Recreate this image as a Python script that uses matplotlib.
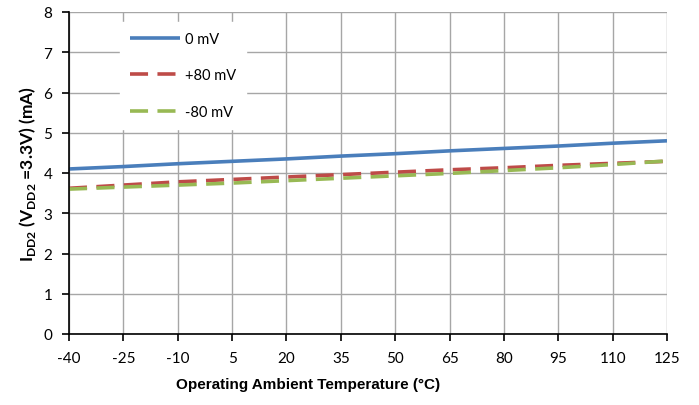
import matplotlib
matplotlib.use("Agg")
import matplotlib.pyplot as plt
from matplotlib import font_manager

temps = [-40, -25, -10, 5, 20, 35, 50, 65, 80, 95, 110, 125]
i_0mv = [4.10, 4.16, 4.23, 4.29, 4.35, 4.42, 4.48, 4.55, 4.61, 4.67, 4.74, 4.80]
i_p80 = [3.62, 3.70, 3.78, 3.84, 3.90, 3.96, 4.02, 4.08, 4.13, 4.19, 4.24, 4.29]
i_m80 = [3.60, 3.65, 3.70, 3.75, 3.81, 3.87, 3.93, 3.99, 4.06, 4.13, 4.21, 4.30]
xticks = [-40, -25, -10, 5, 20, 35, 50, 65, 80, 95, 110, 125]
yticks = [0, 1, 2, 3, 4, 5, 6, 7, 8]

names = {f.name for f in font_manager.fontManager.ttflist}
tick_font = "Lato" if "Lato" in names else "DejaVu Sans"
narrow = "Liberation Sans Narrow" if "Liberation Sans Narrow" in names else "Liberation Sans"

plt.rcParams['font.family'] = [tick_font, 'DejaVu Sans']
plt.rcParams['axes.unicode_minus'] = False
plt.rcParams['mathtext.fontset'] = 'custom'
plt.rcParams['mathtext.bf'] = f'{tick_font}:bold'
plt.rcParams['mathtext.rm'] = f'{tick_font}:bold'

fig = plt.figure(figsize=(6.99, 4.06), dpi=100)
ax = fig.add_axes([69/699, 71/406, 598/699, 322/406])

ax.plot(temps, i_0mv, color='#4a7ebb', lw=2.6, label='0 mV', solid_capstyle='butt')
ax.plot(temps, i_p80, color='#be4b48', lw=2.6, ls=(0, (5, 2.6)), label='+80 mV')
ax.plot(temps, i_m80, color='#98b954', lw=2.6, ls=(0, (5, 2.6)), label='-80 mV')

ax.set_xlim(-40, 125)
ax.set_ylim(0, 8)
ax.set_xticks(xticks)
ax.set_yticks(yticks)
ax.grid(True, color='#a6a6a6', lw=1.0)
ax.set_axisbelow(True)
for s in ['top', 'right']:
    ax.spines[s].set_visible(False)
for s in ['left', 'bottom']:
    ax.spines[s].set_color('black')
    ax.spines[s].set_linewidth(1.2)
ax.tick_params(direction='out', length=5, width=1.2, labelsize=11, colors='black', pad=7)

ax.set_xlabel('Operating Ambient Temperature (°C)', fontsize=11, fontweight='bold',
              family=narrow, labelpad=8)
ax.xaxis.set_label_coords(0.4, -0.135)
ax.set_ylabel(r'I$_{\mathrm{DD2}}$ (V$_{\mathrm{DD2}}$ =3.3V) (mA)', fontsize=12.5,
              fontweight='bold', labelpad=4)

leg = ax.legend(loc='upper left', bbox_to_anchor=(0.085, 0.97), frameon=True,
                fontsize=10.5, handlelength=3.4, labelspacing=1.55, handletextpad=0.35,
                borderpad=0.7, borderaxespad=0)
leg.get_frame().set_edgecolor('white')
leg.get_frame().set_facecolor('white')
leg.get_frame().set_alpha(1)
leg.get_frame().set_boxstyle('square', pad=0)

fig.savefig('out.png', dpi=100)
